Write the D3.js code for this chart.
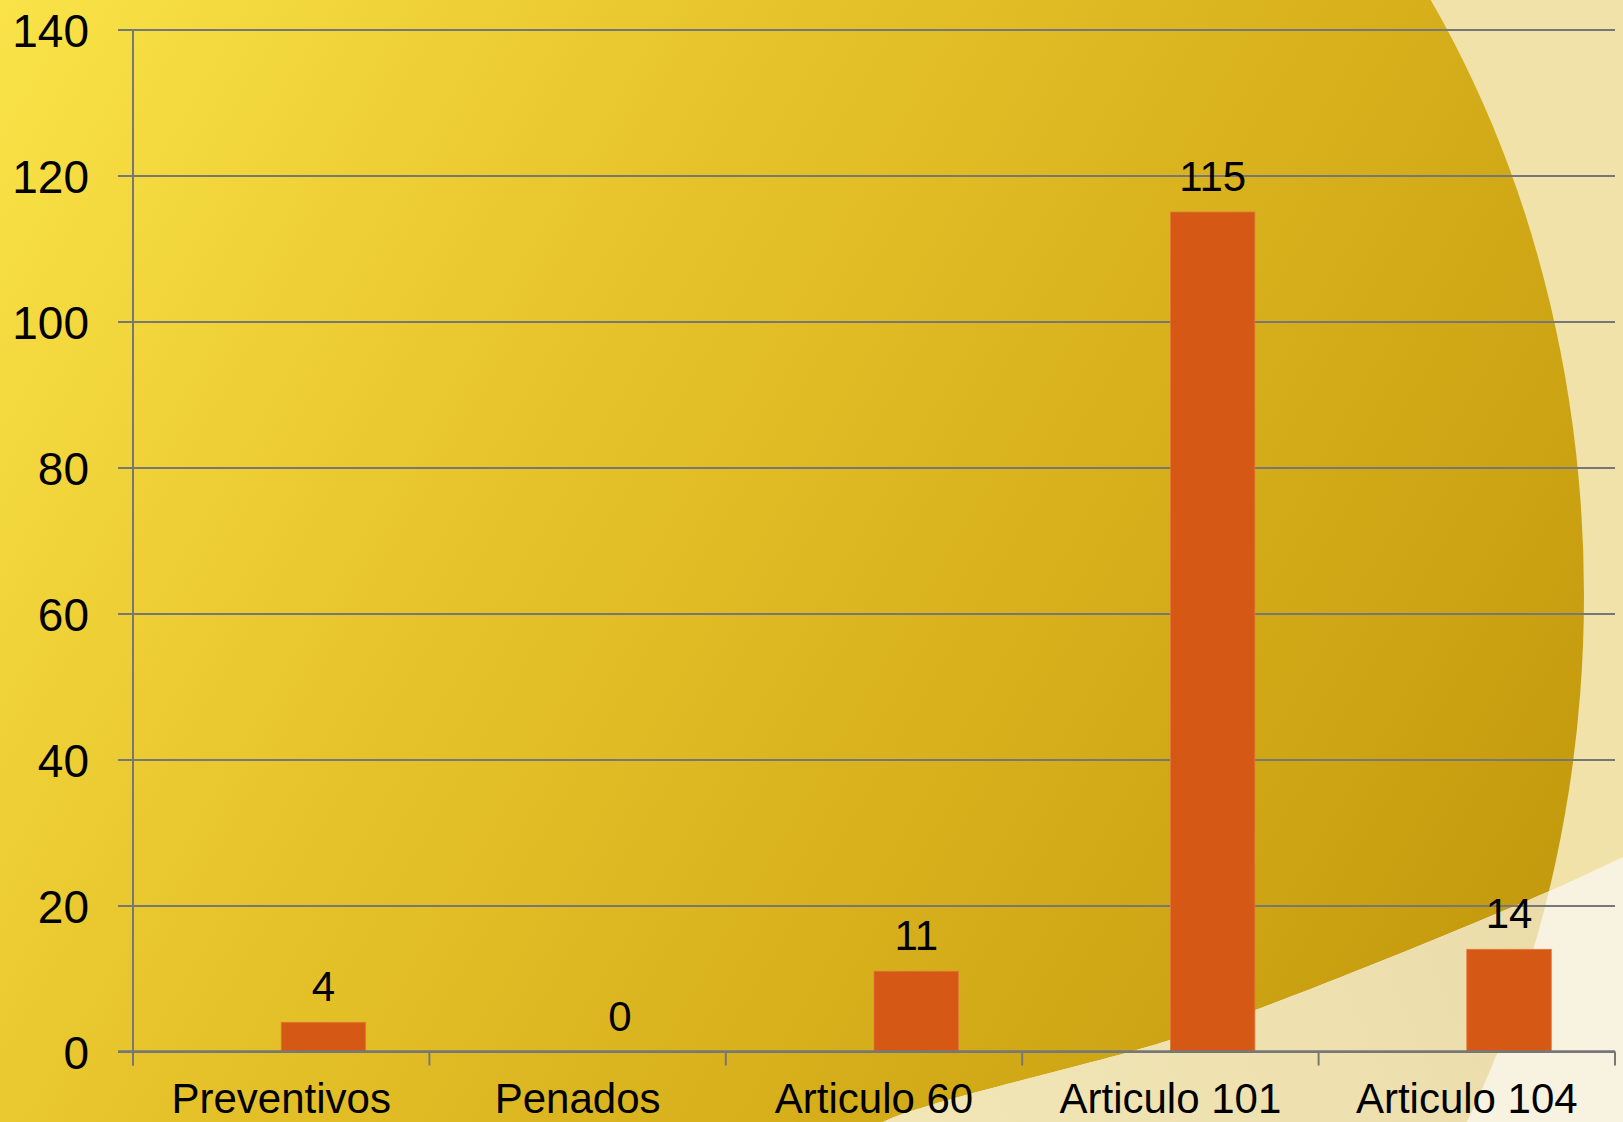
<!DOCTYPE html>
<html>
<head>
<meta charset="utf-8">
<script src="https://cdn.jsdelivr.net/npm/d3@7"></script>
<style>
html,body{margin:0;padding:0;overflow:hidden;background:#f0e2ad;}
svg{display:block;}
text{font-family:"Liberation Sans",Arial,sans-serif;fill:#000;}
</style>
</head>
<body>
<svg id="chart" width="1623" height="1122"></svg>
<script>
const categories = ["Preventivos", "Penados", "Articulo 60", "Articulo 101", "Articulo 104"];
const values = [4, 0, 11, 115, 14];
const yTicks = [0, 20, 40, 60, 80, 100, 120, 140];

const W = 1623, H = 1122;
const svg = d3.select("#chart");
const defs = svg.append("defs");

// background gradient
const lg = defs.append("linearGradient").attr("id", "gold")
  .attr("gradientUnits", "userSpaceOnUse")
  .attr("x1", 0).attr("y1", 0).attr("x2", 1550).attr("y2", 900);
[[0, "#f9e348"], [0.35, "#e8c52c"], [0.86, "#cda413"], [1, "#c49a0e"]]
  .forEach(([o, c]) => lg.append("stop").attr("offset", o).attr("stop-color", c));

const lg2 = defs.append("linearGradient").attr("id", "cream")
  .attr("gradientUnits", "userSpaceOnUse")
  .attr("x1", 900).attr("y1", 1122).attr("x2", 1550).attr("y2", 850);
[[0, "#f2e6b6"], [1, "#ebdcaa"]]
  .forEach(([o, c]) => lg2.append("stop").attr("offset", o).attr("stop-color", c));

// curve B (lower swoosh boundary)
const bPts = [[860, 1140], [883, 1122], [1170, 1040], [1300, 993], [1545, 893], [1623, 857], [1660, 840]];
const bLine = d3.line().curve(d3.curveCatmullRom)(bPts);
const aboveB = bLine + " L1660,-20 L-20,-20 L-20,1140 Z";
const belowB = bLine + " L1660,1140 Z";

defs.append("clipPath").attr("id", "clipAbove").append("path").attr("d", aboveB);
defs.append("clipPath").attr("id", "clipBelow").append("path").attr("d", belowB);

// region left of curve A (right half of a large ellipse)
const cx = 803, cy = 595, rx = 781, ry = 1000;
const leftOfA = `M${cx},${cy - ry} A${rx},${ry} 0 0 1 ${cx},${cy + ry} L-50,${cy + ry} L-50,${cy - ry} Z`;

const bg = svg.append("g");
bg.append("rect").attr("width", W).attr("height", H).attr("fill", "#f0e2a9");
bg.append("path").attr("d", belowB).attr("fill", "#f8f2e1");
bg.append("path").attr("d", leftOfA).attr("fill", "url(#gold)").attr("clip-path", "url(#clipAbove)");
bg.append("path").attr("d", leftOfA).attr("fill", "url(#cream)").attr("clip-path", "url(#clipBelow)");

// scales
const x = d3.scaleBand().domain(categories).range([133, 1615]).paddingInner(0).paddingOuter(0);
const y = d3.scaleLinear().domain([0, 140]).range([1051.5, 29.5]);
const barW = x.bandwidth() * 0.285;

const gridColor = "#777777";

// gridlines
const yAxis = d3.axisLeft(y).tickValues(yTicks).tickSize(1615 - 118).tickSizeOuter(0).tickPadding(30)
  .tickFormat(d3.format("d"));
const gy = svg.append("g").attr("transform", "translate(1615,0)").call(yAxis);
gy.select(".domain").remove();
gy.selectAll(".tick line").attr("stroke", gridColor).attr("stroke-width", 2);
gy.selectAll(".tick text").attr("x", 89 - 1615).attr("dy", null).attr("dominant-baseline", null)
  .attr("y", 16.5).attr("font-size", 46).attr("text-anchor", "end")
  .style("font-family", '"Liberation Sans", Arial, sans-serif').attr("fill", "#000");

// y axis line
svg.append("line").attr("x1", 133).attr("x2", 133).attr("y1", y(140)).attr("y2", y(0) + 14)
  .attr("stroke", gridColor).attr("stroke-width", 2);

// bars
svg.append("g").selectAll("rect").data(categories).join("rect")
  .attr("x", d => x(d) + x.bandwidth() / 2)
  .attr("y", (d, i) => y(values[i]))
  .attr("width", barW)
  .attr("height", (d, i) => y(0) - y(values[i]))
  .attr("fill", "#d55815")
  .attr("stroke", "#e07a3a").attr("stroke-width", 0.8);

// x axis
const gx = svg.append("g").attr("transform", `translate(0,${y(0)})`);
gx.append("line").attr("x1", 118).attr("x2", 1615).attr("stroke", gridColor).attr("stroke-width", 2.5);
const boundaries = categories.map(c => x(c)).concat([x.range()[1]]);
gx.selectAll("line.tk").data(boundaries).join("line").attr("class", "tk")
  .attr("x1", d => d).attr("x2", d => d).attr("y1", 0).attr("y2", 14)
  .attr("stroke", gridColor).attr("stroke-width", 2);
gx.selectAll("text").data(categories).join("text")
  .attr("x", d => x(d) + x.bandwidth() / 2)
  .attr("y", 1113 - y(0))
  .attr("text-anchor", "middle").attr("font-size", 42)
  .text(d => d);

// value labels
svg.append("g").selectAll("text").data(categories).join("text")
  .attr("x", d => x(d) + x.bandwidth() / 2 + barW / 2)
  .attr("y", (d, i) => y(values[i]) - 21)
  .attr("text-anchor", "middle").attr("font-size", 42)
  .text((d, i) => values[i]);
</script>
</body>
</html>
